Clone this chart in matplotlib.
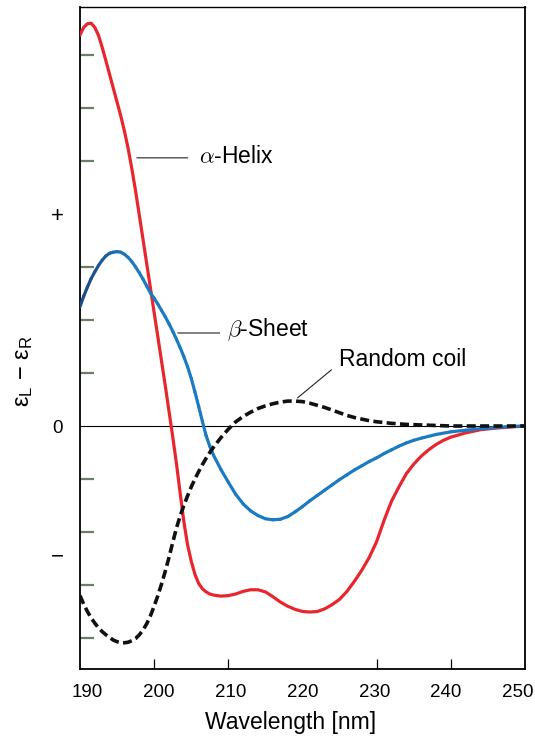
import numpy as np
import matplotlib
matplotlib.use("Agg")
import matplotlib.pyplot as plt
from matplotlib.collections import LineCollection
from matplotlib.colors import to_rgb

plt.rcParams['font.family'] = ['Liberation Sans', 'DejaVu Sans']
plt.rcParams['mathtext.fontset'] = 'cm'

# ---------------- data ----------------
helix_nm = [190.0, 190.5, 191.0, 191.5, 192.0, 192.5, 193.0, 193.5, 194.0, 194.5,
            195.0, 195.5, 196.0, 196.5, 197.0, 197.5, 198.0, 198.5, 199.0, 199.5,
            200.0, 200.5, 201.0, 201.5, 202.0, 202.5, 203.0, 203.5, 204.0, 204.5,
            205.0, 205.5, 206.0, 206.5, 207.0, 207.5, 208.0, 209.0, 210.0, 211.0,
            212.0, 213.0, 214.0, 215.0, 216.0, 217.0, 218.0, 219.0, 220.0, 221.0,
            222.0, 223.0, 224.0, 225.0, 226.0, 227.0, 228.0, 229.0, 230.0, 231.0,
            232.0, 233.0, 234.0, 235.0, 236.0, 237.0, 238.0, 239.0, 240.0, 242.0,
            244.0, 246.0, 248.0, 250.0]
helix_val = [7.38, 7.52, 7.59, 7.60, 7.52, 7.37, 7.14, 6.89, 6.63, 6.37,
             6.11, 5.85, 5.56, 5.23, 4.85, 4.43, 3.98, 3.52, 3.06, 2.60,
             2.14, 1.68, 1.22, 0.76, 0.28, -0.20, -0.70, -1.26, -1.80, -2.24,
             -2.55, -2.80, -2.97, -3.07, -3.13, -3.17, -3.19, -3.21, -3.20, -3.17,
             -3.12, -3.09, -3.09, -3.13, -3.22, -3.32, -3.40, -3.46, -3.50, -3.51,
             -3.50, -3.45, -3.37, -3.27, -3.12, -2.93, -2.72, -2.48, -2.18, -1.78,
             -1.42, -1.15, -0.90, -0.72, -0.57, -0.45, -0.35, -0.27, -0.21, -0.13,
             -0.07, -0.04, -0.02, 0.0]

sheet_nm = [190.0, 190.5, 191.0, 191.5, 192.0, 192.5, 193.0, 193.5, 194.0, 194.5,
            195.0, 195.5, 196.0, 196.5, 197.0, 197.5, 198.0, 198.5, 199.0, 199.5,
            200.0, 200.5, 201.0, 201.5, 202.0, 202.5, 203.0, 203.5, 204.0, 204.5,
            205.0, 205.5, 206.0, 206.5, 207.0, 207.5, 208.0, 209.0, 210.0, 211.0,
            212.0, 213.0, 214.0, 215.0, 216.0, 217.0, 218.0, 219.0, 220.0, 221.0,
            222.0, 223.0, 224.0, 225.0, 226.0, 227.0, 228.0, 229.0, 230.0, 231.0,
            232.0, 233.0, 234.0, 235.0, 236.0, 238.0, 240.0, 242.0, 244.0, 246.0,
            248.0, 250.0]
sheet_val = [2.25, 2.45, 2.62, 2.78, 2.91, 3.03, 3.13, 3.21, 3.26, 3.28,
             3.29, 3.28, 3.24, 3.18, 3.10, 3.00, 2.89, 2.77, 2.64, 2.51,
             2.41, 2.30, 2.18, 2.06, 1.93, 1.79, 1.64, 1.48, 1.31, 1.12,
             0.90, 0.64, 0.37, 0.09, -0.18, -0.38, -0.55, -0.82, -1.06, -1.29,
             -1.47, -1.60, -1.69, -1.75, -1.77, -1.76, -1.71, -1.62, -1.52, -1.41,
             -1.31, -1.21, -1.11, -1.01, -0.92, -0.83, -0.75, -0.67, -0.60, -0.52,
             -0.45, -0.38, -0.32, -0.27, -0.23, -0.16, -0.11, -0.08, -0.05, -0.03,
             -0.01, 0.0]

coil_nm = [190.0, 190.5, 191.0, 191.5, 192.0, 192.5, 193.0, 193.5, 194.0, 194.5,
           195.0, 195.5, 196.0, 196.5, 197.0, 197.5, 198.0, 198.5, 199.0, 199.5,
           200.0, 200.5, 201.0, 201.5, 202.0, 202.5, 203.0, 203.5, 204.0, 204.5,
           205.0, 205.5, 206.0, 206.5, 207.0, 207.5, 208.0, 209.0, 210.0, 211.0,
           212.0, 213.0, 214.0, 215.0, 216.0, 217.0, 218.0, 219.0, 220.0, 221.0,
           222.0, 223.0, 224.0, 225.0, 226.0, 227.0, 228.0, 229.0, 230.0, 232.0,
           234.0, 236.0, 238.0, 240.0, 250.0]
coil_val = [-3.20, -3.36, -3.50, -3.62, -3.72, -3.81, -3.88, -3.94, -3.99, -4.04,
            -4.07, -4.09, -4.09, -4.08, -4.05, -4.01, -3.94, -3.85, -3.73, -3.58,
            -3.40, -3.20, -2.98, -2.74, -2.48, -2.20, -1.93, -1.70, -1.50, -1.32,
            -1.15, -1.00, -0.86, -0.73, -0.61, -0.50, -0.40, -0.22, -0.06, 0.08,
            0.18, 0.26, 0.33, 0.38, 0.42, 0.45, 0.47, 0.47, 0.46, 0.43,
            0.39, 0.35, 0.30, 0.25, 0.20, 0.16, 0.13, 0.10, 0.08, 0.05,
            0.03, 0.02, 0.01, 0.0, 0.0]

x_tick_values = [190, 200, 210, 220, 230, 240, 250]
y_tick_labels = ['+', '0', '\u2212']
y_tick_values = [4.0, 0.0, -2.43]

# ---------------- figure ----------------
fig = plt.figure(figsize=(5.35, 7.38), dpi=100)
fig.patch.set_facecolor('white')
ax = fig.add_axes([0.1495, 0.0935, 0.8318, 0.897])
ax.set_xlim(190, 250)
ax.set_ylim(-4.585, 7.906)

# zero line
ax.axhline(0, color='black', lw=0.8, zorder=1)

# alpha helix
ax.plot(helix_nm, helix_val, color='#e8262e', lw=2.3, zorder=3,
        solid_capstyle='round', solid_joinstyle='round')

# beta sheet, drawn with a navy-to-blue colour fade at its start
pts = np.column_stack([sheet_nm, sheet_val]).reshape(-1, 1, 2)
segs = np.concatenate([pts[:-1], pts[1:]], axis=1)
navy = np.array(to_rgb('#1f4a86'))
blue = np.array(to_rgb('#1a7bc3'))
mids = (np.array(sheet_nm[:-1]) + np.array(sheet_nm[1:])) / 2
t = np.clip((mids - 191.0) / 6.0, 0, 1)[:, None]
cols = navy * (1 - t) + blue * t
lc = LineCollection(segs, colors=cols, linewidths=2.3, zorder=3,
                    capstyle='round', joinstyle='round')
ax.add_collection(lc)

# random coil
ax.plot(coil_nm, coil_val, color='#111111', lw=2.6, ls=(0, (2.5, 1.2)),
        zorder=4, dash_capstyle='butt')

# annotations
ann = dict(arrowstyle='-', color='#222222', lw=0.8, shrinkA=0, shrinkB=0)
ax.annotate('', xy=(197.67, 5.06), xytext=(204.53, 5.06), arrowprops=ann)
ax.text(206.0, 5.09, r'$\alpha$-Helix', fontsize=16.5, va='center', ha='left')
ax.annotate('', xy=(203.19, 1.755), xytext=(208.84, 1.755), arrowprops=ann)
ax.text(209.78, 1.81, r'$\beta$-Sheet', fontsize=16.5, va='center', ha='left')
ax.annotate('', xy=(219.33, 0.53), xytext=(223.9, 1.06), arrowprops=ann)
ax.text(224.98, 1.25, 'Random coil', fontsize=16.5, va='center', ha='left')

# x ticks: inward marks at true positions, labels as in the figure
ax.set_xticks([200, 210, 220, 230, 240], minor=True)
ax.tick_params(axis='x', which='minor', direction='in', length=7, width=0.9,
               color='black')
label_pos = [220 + (v - 220) * 0.968 for v in x_tick_values]
ax.set_xticks(label_pos)
ax.set_xticklabels([str(v) for v in x_tick_values], fontsize=13.5)
ax.tick_params(axis='x', which='major', length=0, pad=11)

# y ticks: grey-green inward minor marks at integers
ax.set_yticks([v for v in range(-4, 8) if v != 0], minor=True)
ax.tick_params(axis='y', which='minor', direction='in', length=10, width=1.6,
               color='#6e7d6a')
ax.set_yticks(y_tick_values)
ax.set_yticklabels(y_tick_labels, fontsize=13.5)
ax.tick_params(axis='y', which='major', length=0, pad=16.5)
for lab in ax.get_yticklabels():
    lab.set_horizontalalignment('center')
    if lab.get_text() in ('+', '\u2212'):
        lab.set_fontsize(16)

for s in ['left', 'bottom', 'right']:
    ax.spines[s].set_linewidth(1.3)
ax.spines['top'].set_linewidth(1.0)

ax.set_xlabel('Wavelength [nm]', fontsize=16.5)
ax.xaxis.set_label_coords(0.473, -0.063)
ax.set_ylabel(r'$\mathregular{\epsilon_L}$ $\mathregular{-}$ $\mathregular{\epsilon_R}$',
              fontsize=17)
ax.yaxis.set_label_coords(-0.10, 0.45)

fig.savefig('out.png', dpi=100, facecolor='white')
